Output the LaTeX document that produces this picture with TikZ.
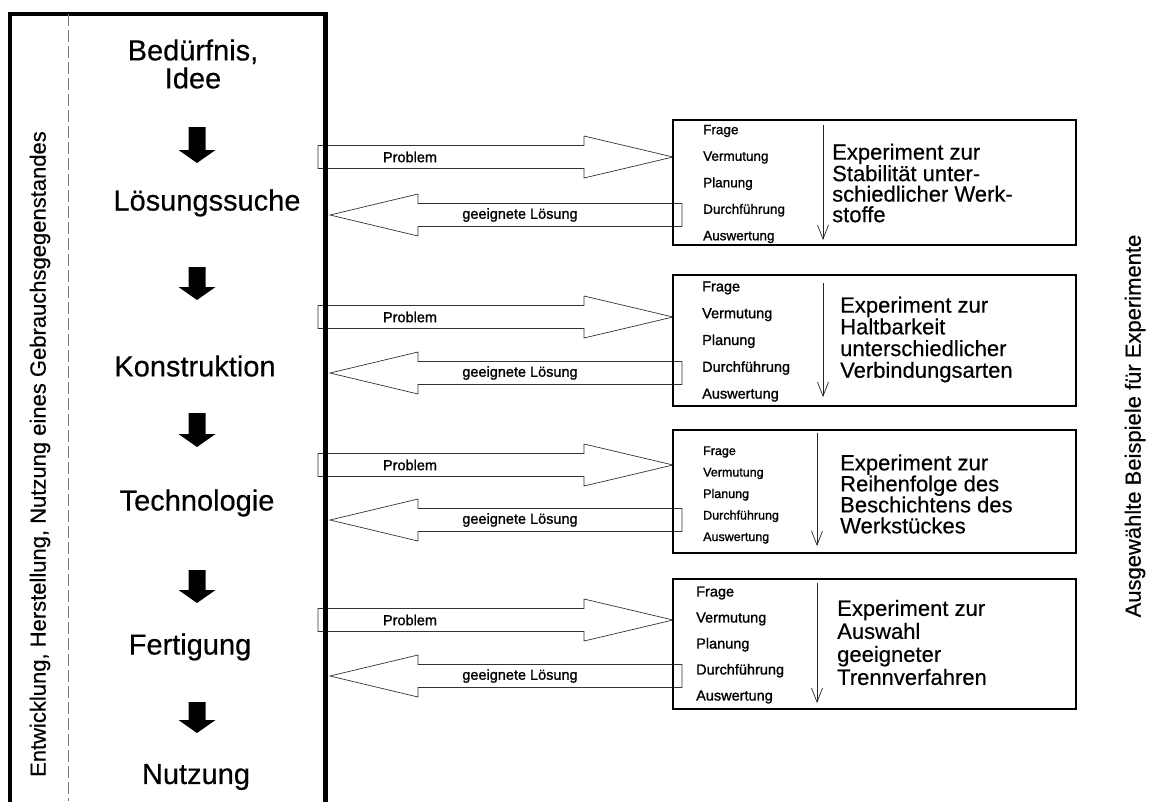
\documentclass[tikz,border=0pt]{standalone}
\usepackage{fontspec}
\setmainfont{Liberation Sans}[FakeBold=0.4]
\newfontfamily\smallfnt{Liberation Sans}[FakeBold=1.2]
\usetikzlibrary{calc,arrows.meta}
\pgfdeclarelayer{bg}
\pgfsetlayers{bg,main}
\tikzset{
  mainbox/.style={draw=black, line width=4.5pt, inner sep=0pt, outer sep=0pt, anchor=north west, minimum width=315.5pt, minimum height=830pt},
  expbox/.style={draw=black, line width=2.6pt, inner sep=0pt, outer sep=0pt, anchor=north west, minimum width=403pt},
  stage/.style={font=\fontsize{29}{28}\selectfont, inner sep=0pt, align=center},
  steps/.style={inner sep=0pt, align=left, anchor=west},
  exptext/.style={inner sep=0pt, align=left, anchor=west},
  blk/.style={draw=black!80, line width=0.7pt, fill=white, line join=miter},
  arrlabel/.style={font=\smallfnt\fontsize{14.5}{15}\selectfont, inner sep=0pt},
  flow/.style={draw=black!85, line width=0.7pt, -{Straight Barb[length=14pt,width=11pt,line width=0.7pt]}},
  side/.style={font=\fontsize{22}{24}\selectfont, rotate=90, inner sep=0pt},
  sepline/.style={draw=black!55, line width=0.7pt, dash pattern=on 12pt off 4pt},
}
\newcommand\rblk[2]{\draw[blk] ($(#1)+(0,-11.5)$) -- ($(#2)+(-89,-11.5)$) -- ($(#2)+(-89,-21)$) -- (#2) -- ($(#2)+(-89,21)$) -- ($(#2)+(-89,11.5)$) -- ($(#1)+(0,11.5)$) -- cycle;}
\newcommand\lblk[2]{\draw[blk] ($(#1)+(0,-11.5)$) -- ($(#2)+(88,-11.5)$) -- ($(#2)+(88,-21)$) -- (#2) -- ($(#2)+(88,21)$) -- ($(#2)+(88,11.5)$) -- ($(#1)+(0,11.5)$) -- cycle;}
\newcommand\downarr[2]{\fill[black] ($(#1)+(-8.5,0)$) -- ($(#1)+(8.5,0)$) -- ($(#2)+(8.5,-13)$) -- ($(#2)+(18.5,-13)$) -- (#2) -- ($(#2)+(-18.5,-13)$) -- ($(#2)+(-8.5,-13)$) -- cycle;}
\begin{document}
\begin{tikzpicture}[x=1pt,y=-1pt]
\useasboundingbox (0,0) rectangle (1155,801);
\clip (0,0) rectangle (1155,801);

% main column
\node[mainbox] (main) at (10,14) {};
\draw[sepline] (68,14) -- (68,801);
\node[side] (lt) at (40,454) {Entwicklung, Herstellung, Nutzung eines Gebrauchsgegenstandes};

% stages
\node[stage] (s0) at (193,64) {Bedürfnis,\\Idee};
\node[stage] (s1) at (207,203) {Lösungssuche};
\node[stage] (s2) at (195,366) {Konstruktion};
\node[stage] (s3) at (197,503) {Technologie};
\node[stage] (s4) at (190,647) {Fertigung};
\node[stage] (s5) at (196,777) {Nutzung};

\coordinate (d1a) at (197,127); \coordinate (d1b) at (197,163);
\coordinate (d2a) at (197,267); \coordinate (d2b) at (197,300);
\coordinate (d3a) at (197,413); \coordinate (d3b) at (197,447);
\coordinate (d4a) at (197,570); \coordinate (d4b) at (197,603);
\coordinate (d5a) at (197,702); \coordinate (d5b) at (197,733);
\downarr{d1a}{d1b}
\downarr{d2a}{d2b}
\downarr{d3a}{d3b}
\downarr{d4a}{d4b}
\downarr{d5a}{d5b}

% experiment boxes
\node[expbox, minimum height=125pt] (b1) at (673,120) {};
\node[expbox, minimum height=131pt] (b2) at (673,275) {};
\node[expbox, minimum height=123pt] (b3) at (673,430) {};
\node[expbox, minimum height=130pt] (b4) at (673,579) {};

\node[steps, font=\smallfnt\fontsize{13.5}{26.5}\selectfont] (st1) at (703,184) {Frage\\Vermutung\\Planung\\Durchführung\\Auswertung};
\node[steps, font=\smallfnt\fontsize{14.5}{26.8}\selectfont] (st2) at (702,341.5) {Frage\\Vermutung\\Planung\\Durchführung\\Auswertung};
\node[steps, font=\smallfnt\fontsize{12.5}{21.5}\selectfont] (st3) at (703,495) {Frage\\Vermutung\\Planung\\Durchführung\\Auswertung};
\node[steps, font=\smallfnt\fontsize{14.5}{26}\selectfont] (st4) at (696,645) {Frage\\Vermutung\\Planung\\Durchführung\\Auswertung};

\draw[flow] ($(b1.north west)+(150,5)$) -- ($(b1.south west)+(150,-5)$);
\draw[flow] ($(b2.north west)+(150,8)$) -- ($(b2.south west)+(150,-9)$);
\draw[flow] ($(b3.north west)+(144,3)$) -- ($(b3.south west)+(144,-7)$);
\draw[flow] ($(b4.north west)+(144,4)$) -- ($(b4.south west)+(144,-6)$);

\node[exptext, font=\fontsize{22}{20.5}\selectfont] (e1) at (832,183) {Experiment zur\\Stabilität unter-\\schiedlicher Werk-\\stoffe};
\node[exptext, font=\fontsize{22}{21.7}\selectfont] (e2) at (840,339.5) {Experiment zur\\Haltbarkeit\\unterschiedlicher\\Verbindungsarten};
\node[exptext, font=\fontsize{22}{21}\selectfont] (e3) at (840,494) {Experiment zur\\Reihenfolge des\\Beschichtens des\\Werkstückes};
\node[exptext, font=\fontsize{22}{23}\selectfont] (e4) at (837,642.5) {Experiment zur\\Auswahl\\geeigneter\\Trennverfahren};

\node[side] (rt) at (1135,426) {Ausgewählte Beispiele für Experimente};

% block arrows
\coordinate (p1s) at (318,157); \coordinate (p1e) at (b1.west |- p1s);
\coordinate (p2s) at (318,317); \coordinate (p2e) at (b2.west |- p2s);
\coordinate (p3s) at (318,465); \coordinate (p3e) at (b3.west |- p3s);
\coordinate (p4s) at (318,620); \coordinate (p4e) at (b4.west |- p4s);
\coordinate (g1s) at ($(b1.west |- 0,215)+(9,0)$); \coordinate (g1e) at ($(main.east |- g1s)+(4.5,0)$);
\coordinate (g2s) at ($(b2.west |- 0,373)+(9,0)$); \coordinate (g2e) at ($(main.east |- g2s)+(4.5,0)$);
\coordinate (g3s) at ($(b3.west |- 0,520)+(9,0)$); \coordinate (g3e) at ($(main.east |- g3s)+(4.5,0)$);
\coordinate (g4s) at ($(b4.west |- 0,676)+(9,0)$); \coordinate (g4e) at ($(main.east |- g4s)+(4.5,0)$);
\begin{pgfonlayer}{bg}
\rblk{p1s}{p1e} \rblk{p2s}{p2e} \rblk{p3s}{p3e} \rblk{p4s}{p4e}
\lblk{g1s}{g1e} \lblk{g2s}{g2e} \lblk{g3s}{g3e} \lblk{g4s}{g4e}
\end{pgfonlayer}
\node[arrlabel] (pl1) at ($(p1s)+(92,0)$) {Problem};
\node[arrlabel] (pl2) at ($(p2s)+(92,0)$) {Problem};
\node[arrlabel] (pl3) at ($(p3s)+(92,0)$) {Problem};
\node[arrlabel] (pl4) at ($(p4s)+(92,0)$) {Problem};
\node[arrlabel] (gl1) at ($(g1e)+(190,0)$) {geeignete Lösung};
\node[arrlabel] (gl2) at ($(g2e)+(190,0)$) {geeignete Lösung};
\node[arrlabel] (gl3) at ($(g3e)+(190,0)$) {geeignete Lösung};
\node[arrlabel] (gl4) at ($(g4e)+(190,0)$) {geeignete Lösung};
\end{tikzpicture}
\end{document}
